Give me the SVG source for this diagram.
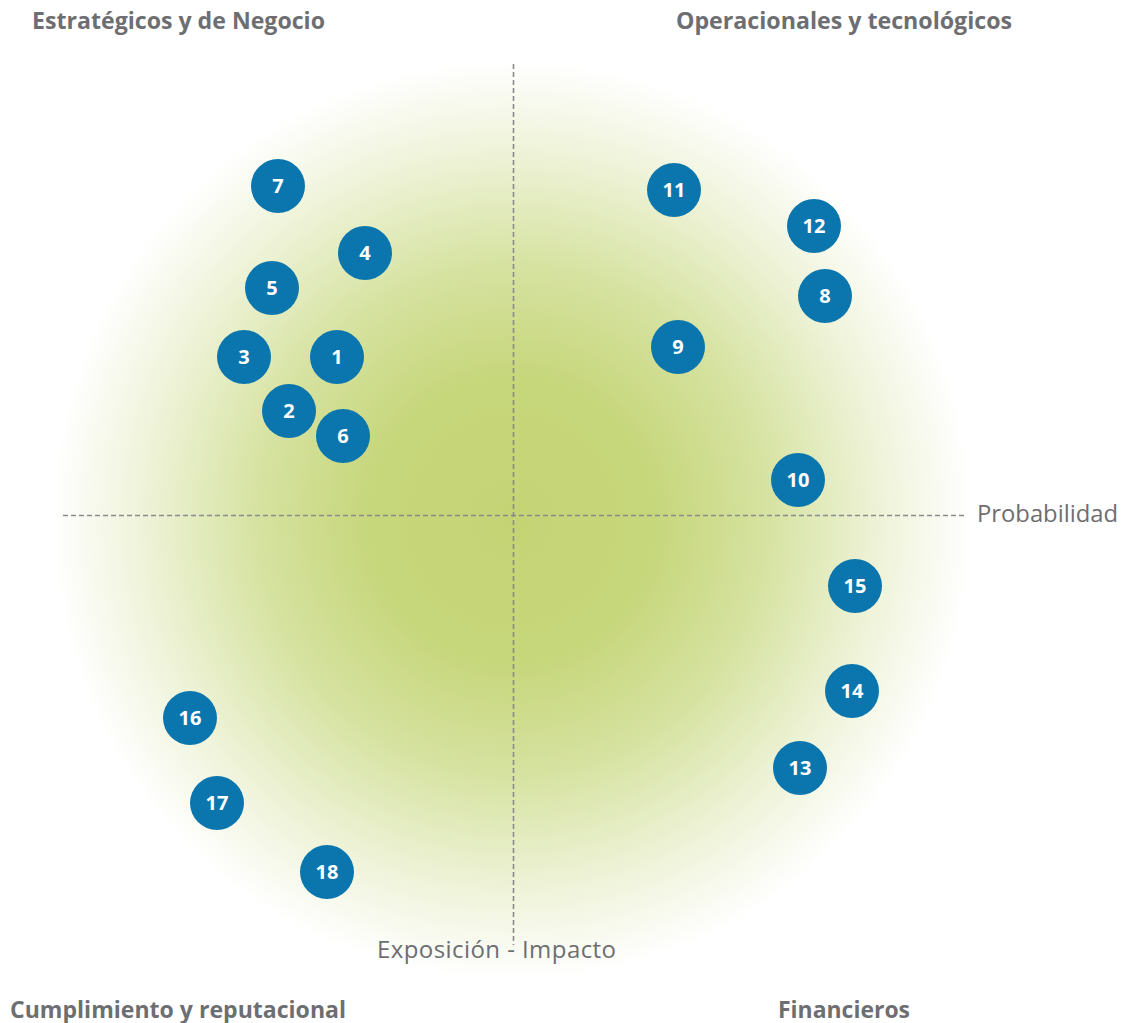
<svg xmlns="http://www.w3.org/2000/svg" width="1128" height="1023" viewBox="0 0 1128 1023">
<defs>
<radialGradient id="glow" cx="512" cy="520" r="460" gradientUnits="userSpaceOnUse">
<stop offset="0" stop-color="#c4d475"/>
<stop offset="0.3" stop-color="#c6d67a"/>
<stop offset="0.55" stop-color="#d6e2a0"/>
<stop offset="0.8" stop-color="#eef3d8"/>
<stop offset="1" stop-color="#ffffff"/>
</radialGradient>
<style>
.title{font-family:"Open Sans","Liberation Sans",sans-serif;font-weight:bold;font-size:23px;fill:#6d6e71}
.axis-label{font-family:"Open Sans","Liberation Sans",sans-serif;font-size:24px;fill:#6d6e71}
.axis{stroke:#8a8a8a;stroke-width:1.6;stroke-dasharray:5 3;fill:none}
.dot circle{fill:#0a76ad}
.dot text{font-family:"Open Sans","Liberation Sans",sans-serif;font-weight:bold;font-size:20px;fill:#ffffff;text-anchor:middle}
</style>
</defs>
<rect width="1128" height="1023" fill="#ffffff"/>
<circle cx="512" cy="520" r="460" fill="url(#glow)"/>
<g id="connectors">
<line class="axis" x1="63" y1="515.5" x2="965" y2="515.5"/>
<line class="axis" x1="513.5" y1="64" x2="513.5" y2="945"/>
</g>
<g id="labels">
<text class="title" x="32" y="29" textLength="293" lengthAdjust="spacingAndGlyphs">Estratégicos y de Negocio</text>
<text class="title" x="676" y="29" textLength="336" lengthAdjust="spacingAndGlyphs">Operacionales y tecnológicos</text>
<text class="title" x="10" y="1018" textLength="336" lengthAdjust="spacingAndGlyphs">Cumplimiento y reputacional</text>
<text class="title" x="778" y="1018" textLength="132" lengthAdjust="spacingAndGlyphs">Financieros</text>
<text class="axis-label" x="977" y="522" textLength="141" lengthAdjust="spacingAndGlyphs">Probabilidad</text>
<text class="axis-label" x="377" y="958" textLength="239" lengthAdjust="spacing">Exposición - Impacto</text>
</g>
<g id="n7" class="dot"><circle cx="278" cy="186" r="27"/><text x="278" y="193">7</text></g>
<g id="n4" class="dot"><circle cx="365" cy="253" r="27"/><text x="365" y="260">4</text></g>
<g id="n5" class="dot"><circle cx="272" cy="288" r="27"/><text x="272" y="295">5</text></g>
<g id="n3" class="dot"><circle cx="244" cy="357" r="27"/><text x="244" y="364">3</text></g>
<g id="n1" class="dot"><circle cx="337" cy="357" r="27"/><text x="337" y="364">1</text></g>
<g id="n2" class="dot"><circle cx="289" cy="411" r="27"/><text x="289" y="418">2</text></g>
<g id="n6" class="dot"><circle cx="343" cy="436" r="27"/><text x="343" y="443">6</text></g>
<g id="n11" class="dot"><circle cx="674" cy="190" r="27"/><text x="674" y="197">11</text></g>
<g id="n12" class="dot"><circle cx="814" cy="226" r="27"/><text x="814" y="233">12</text></g>
<g id="n8" class="dot"><circle cx="825" cy="296" r="27"/><text x="825" y="303">8</text></g>
<g id="n9" class="dot"><circle cx="678" cy="347" r="27"/><text x="678" y="354">9</text></g>
<g id="n10" class="dot"><circle cx="798" cy="480" r="27"/><text x="798" y="487">10</text></g>
<g id="n15" class="dot"><circle cx="855" cy="586" r="27"/><text x="855" y="593">15</text></g>
<g id="n14" class="dot"><circle cx="852" cy="691" r="27"/><text x="852" y="698">14</text></g>
<g id="n13" class="dot"><circle cx="800" cy="768" r="27"/><text x="800" y="775">13</text></g>
<g id="n16" class="dot"><circle cx="190" cy="718" r="27"/><text x="190" y="725">16</text></g>
<g id="n17" class="dot"><circle cx="217" cy="803" r="27"/><text x="217" y="810">17</text></g>
<g id="n18" class="dot"><circle cx="327" cy="872" r="27"/><text x="327" y="879">18</text></g>
</svg>
